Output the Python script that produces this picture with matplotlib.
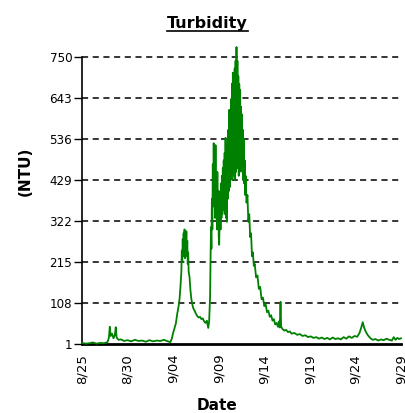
import numpy as np
import matplotlib
matplotlib.use("Agg")
import matplotlib.pyplot as plt
from matplotlib.lines import Line2D

# days after 8/25 00:00 and turbidity readings (NTU)
days = [0, 0.4, 0.8, 1.2, 1.6, 2.0, 2.4, 2.8, 2.95, 3.05, 3.15, 3.3, 3.45, 3.6, 3.7, 3.8,
        4.0, 4.3, 4.6, 5.0, 5.4, 5.8, 6.2, 6.6, 7.0, 7.4, 7.8, 8.2, 8.6, 9.0, 9.4, 9.7,
        9.85, 10.0, 10.15, 10.3, 10.45, 10.6, 10.7, 10.8, 10.9, 10.95, 11.0, 11.05, 11.1,
        11.15, 11.2, 11.25, 11.3, 11.35, 11.4, 11.45, 11.5, 11.55, 11.6, 11.65, 11.7, 11.8,
        11.9, 12.0, 12.1, 12.2, 12.35, 12.5, 12.65, 12.8, 12.95, 13.1, 13.25, 13.4, 13.55,
        13.7, 13.85,
        13.95, 14.05, 14.15, 14.2, 14.25, 14.3, 14.35, 14.4, 14.45, 14.5, 14.55, 14.6, 14.65,
        14.7, 14.75, 14.8, 14.85, 14.9, 14.95, 15.0, 15.05, 15.1, 15.15, 15.2, 15.25, 15.3,
        15.35, 15.4, 15.45, 15.5, 15.55, 15.6, 15.65, 15.7, 15.75, 15.8, 15.85, 15.9, 15.95,
        16.0, 16.05, 16.1, 16.15, 16.2, 16.25, 16.3, 16.35, 16.4, 16.45, 16.5, 16.55, 16.6,
        16.65, 16.7, 16.75, 16.8, 16.85, 16.9, 16.95, 17.0, 17.05, 17.1, 17.15, 17.2, 17.25,
        17.3, 17.35, 17.4, 17.45, 17.5, 17.55, 17.6, 17.65, 17.7, 17.75, 17.8, 17.85, 17.9,
        17.95, 18.05, 18.15, 18.25, 18.35, 18.45, 18.55, 18.65,
        18.75, 18.85, 18.95, 19.1, 19.25, 19.4, 19.55, 19.7, 19.85, 20.0, 20.15, 20.3, 20.45,
        20.6, 20.75, 20.9, 21.05, 21.2, 21.35, 21.5, 21.6, 21.7, 21.78, 21.85, 22.0,
        22.2, 22.4, 22.6, 22.8, 23.0, 23.3, 23.6, 23.9, 24.2, 24.5, 24.8, 25.1, 25.4, 25.7,
        26.0, 26.3, 26.6, 26.9, 27.2, 27.5, 27.8, 28.1, 28.4, 28.7, 29.0, 29.3, 29.6, 29.9,
        30.2, 30.45, 30.65, 30.8, 30.95, 31.1, 31.3, 31.5, 31.7, 31.9, 32.2, 32.5, 32.8,
        33.1, 33.4, 33.7, 34.0, 34.2, 34.4, 34.6, 34.8, 35.0]
ntu = [4, 2, 3, 5, 2, 4, 3, 6, 18, 46, 22, 28, 16, 24, 45, 18,
       12, 13, 9, 11, 8, 12, 9, 10, 7, 11, 8, 10, 9, 12, 8, 6,
       15, 30, 42, 55, 80, 100, 118, 150, 190, 245, 215, 275, 230,
       290, 240, 300, 225, 280, 250, 295, 230, 270, 210, 240, 190, 175,
       140, 118, 105, 95, 88, 80, 74, 70, 72, 66, 68, 60, 56,
       62, 43,
       60, 124, 306, 250, 380, 300, 470, 360, 525, 380, 500, 330, 520,
       350, 440, 300, 450, 320, 400, 280, 260, 330, 400, 300, 420, 330,
       440, 340, 460, 350, 480, 360, 500, 340, 539, 330, 520, 320, 480,
       380, 560, 400, 612, 410, 600, 430, 640, 440, 680, 430, 709, 450,
       700, 440, 720, 430, 740, 450, 776, 470, 740, 460, 700, 440, 680,
       450, 664, 460, 620, 470, 600, 450, 560, 430, 536, 420, 480, 390,
       440, 370, 390, 320, 340, 280, 290, 230,
       240, 205, 210, 175, 180, 145, 150, 118, 122, 100, 104, 84, 88,
       72, 76, 62, 66, 52, 56, 46, 60, 44, 111, 46, 40,
       36, 38, 32, 34, 28, 30, 25, 27, 22, 24, 19, 21, 17, 19,
       15, 18, 14, 17, 13, 18, 14, 16, 13, 19, 15, 21, 17, 22,
       20, 30, 45, 58, 44, 35, 26, 20, 15, 12, 14, 10, 13,
       11, 15, 12, 10, 19, 12, 17, 14, 16]

y_ticks = [1, 108, 215, 322, 429, 536, 643, 750]
x_labels = ["8/25", "8/30", "9/04", "9/09", "9/14", "9/19", "9/24", "9/29"]

start = np.datetime64("2008-08-25T00:00")
times = start + (np.array(days) * 24 * 60).astype("timedelta64[m]")
tick_dates = start + np.arange(0, 36, 5).astype("timedelta64[D]")

fig = plt.figure(figsize=(4.06, 4.13), dpi=100)
ax = fig.add_axes([0.202, 0.167, 0.7857, 0.695])

for y in y_ticks[1:]:
    ax.axhline(y, color="black", lw=1.1, ls=(0, (4, 3)), zorder=1, clip_on=False)

ax.plot(times, ntu, color="#008000", lw=1.3, clip_on=False, zorder=3)

ax.set_xlim(tick_dates[0], tick_dates[-1])
ax.set_ylim(1, 750)
ax.set_yticks(y_ticks)
ax.set_yticklabels([str(v) for v in y_ticks], fontsize=8.6, family="DejaVu Sans")
ax.set_xticks(tick_dates)
ax.set_xticklabels(x_labels, rotation=90, fontsize=9.5, family="DejaVu Sans")
ax.tick_params(axis="y", length=6, width=1, pad=1)
ax.tick_params(axis="x", length=0, pad=7)

for side in ["top", "right"]:
    ax.spines[side].set_visible(False)
ax.spines["left"].set_linewidth(1.2)
ax.spines["bottom"].set_linewidth(2)

title = fig.text(0.511, 1 - 28 / 413, "Turbidity", ha="center", va="baseline",
                 fontsize=11.5, fontweight="bold", family="DejaVu Sans")
fig.text(25 / 406, 1 - 171 / 413, "(NTU)", rotation=90, ha="center", va="center",
         fontsize=11, fontweight="bold", family="DejaVu Sans")
fig.text(217 / 406, 1 - 405 / 413, "Date", ha="center", va="center",
         fontsize=11, fontweight="bold", family="DejaVu Sans")

# underline the title
fig.canvas.draw()
bb = title.get_window_extent().transformed(fig.transFigure.inverted())
fig.add_artist(Line2D([bb.x0, bb.x1], [bb.y0, bb.y0], color="black", lw=1.2,
                      transform=fig.transFigure))

fig.savefig("out.png", dpi=100)
